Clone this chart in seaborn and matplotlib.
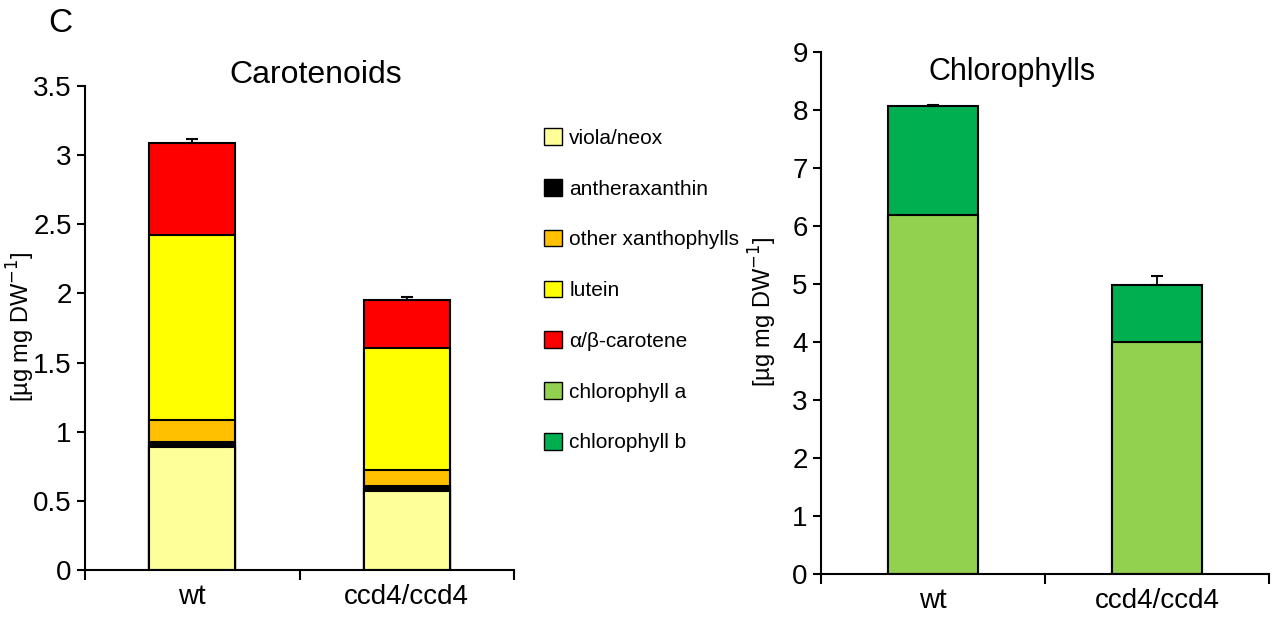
import matplotlib
matplotlib.use("Agg")
import matplotlib.pyplot as plt
import seaborn as sns
import numpy as np
import pandas as pd
from matplotlib.patches import Patch

sns.set_theme(style="white")
plt.rcParams['font.family'] = ['Liberation Sans', 'DejaVu Sans']
plt.rcParams['text.color'] = 'black'
plt.rcParams['axes.labelcolor'] = 'black'
plt.rcParams['xtick.color'] = 'black'
plt.rcParams['ytick.color'] = 'black'

genotypes = ["wt", "ccd4/ccd4"]
# carotenoid components (µg mg DW-1)
viola_neox = [0.89, 0.57]
antheraxanthin = [0.035, 0.035]
other_xanth = [0.16, 0.115]
lutein = [1.335, 0.885]
carotene = [0.67, 0.345]
carot_err = [0.03, 0.025]
# chlorophylls
chl_a = [6.19, 4.0]
chl_b = [1.88, 0.98]
chl_err = [0.02, 0.15]

car_names = ["viola/neox", "antheraxanthin", "other xanthophylls", "lutein", "α/β-carotene"]
car_colors = ["#FFFF99", "#000000", "#FFC000", "#FFFF00", "#FF0000"]
chl_names = ["chlorophyll a", "chlorophyll b"]
chl_colors = ["#92D050", "#00B050"]

fig = plt.figure(figsize=(12.77, 6.17), dpi=100)
ax1 = fig.add_axes([85/1277, 1-570/617, (514-85)/1277, (570-86)/617])
ax2 = fig.add_axes([821/1277, 1-574/617, (1269-821)/1277, (574-52)/617])

def stacked(ax, layers, colors, err):
    cum = np.cumsum(np.array(layers), axis=0)
    for i in range(len(layers)-1, -1, -1):
        df = pd.DataFrame({"g": genotypes, "v": cum[i]})
        sns.barplot(data=df, x="g", y="v", color=colors[i], width=0.4,
                    edgecolor="black", linewidth=1.5, ax=ax, saturation=1)
    tot = cum[-1]
    ax.errorbar(np.arange(len(genotypes)), tot, yerr=[np.zeros_like(tot), np.array(err)],
                fmt="none", ecolor="black", elinewidth=1.3, capsize=4, capthick=1.5)

stacked(ax1, [viola_neox, antheraxanthin, other_xanth, lutein, carotene], car_colors, carot_err)
stacked(ax2, [chl_a, chl_b], chl_colors, chl_err)

for ax, ymax, step in [(ax1, 3.5, 0.5), (ax2, 9, 1)]:
    ax.set_xlim(-0.5, 1.5)
    ax.set_ylim(0, ymax)
    ax.set_yticks(np.arange(0, ymax + 0.001, step))
    ax.set_xlabel("")
    ax.set_ylabel("")
    for s in ["top", "right"]:
        ax.spines[s].set_visible(False)
    for s in ["left", "bottom"]:
        ax.spines[s].set_color("black")
        ax.spines[s].set_linewidth(1.5)
    ax.set_xticks([-0.5, 0.5, 1.5], minor=True)
    ax.tick_params(axis="x", which="major", length=0, labelsize=20, pad=10)
    ax.tick_params(axis="x", which="minor", length=7, width=1.5, direction="out", color="black", bottom=True)
    ax.tick_params(axis="y", length=6, width=1.5, direction="out", color="black", labelsize=20, left=True)

ax1.set_yticklabels(["0", "0.5", "1", "1.5", "2", "2.5", "3", "3.5"])
ax2.set_yticklabels([str(i) for i in range(10)])

fig.text(316/1277, 1-75/617, "Carotenoids", ha="center", va="center", fontsize=23)
fig.text(1012/1277, 1-72/617, "Chlorophylls", ha="center", va="center", fontsize=22)

fig.text(60/1277, 1-24/617, "C", fontsize=24, ha="center", va="center")
fig.text(21/1277, 1-327/617, r"[µg mg DW$^{-1}$]", rotation=90, fontsize=17, ha="center", va="center")
fig.text(763/1277, 1-312/617, r"[µg mg DW$^{-1}$]", rotation=90, fontsize=17, ha="center", va="center")

handles = [Patch(facecolor=c, edgecolor="black", linewidth=1) for c in car_colors + chl_colors]
labels = car_names + chl_names
fig.legend(handles, labels, loc="upper left", bbox_to_anchor=(536/1277, 1-120/617),
           frameon=False, fontsize=15, handlelength=0.85, handleheight=0.85,
           handletextpad=0.35, labelspacing=1.5, borderaxespad=0)

fig.savefig("out.png", dpi=100)
